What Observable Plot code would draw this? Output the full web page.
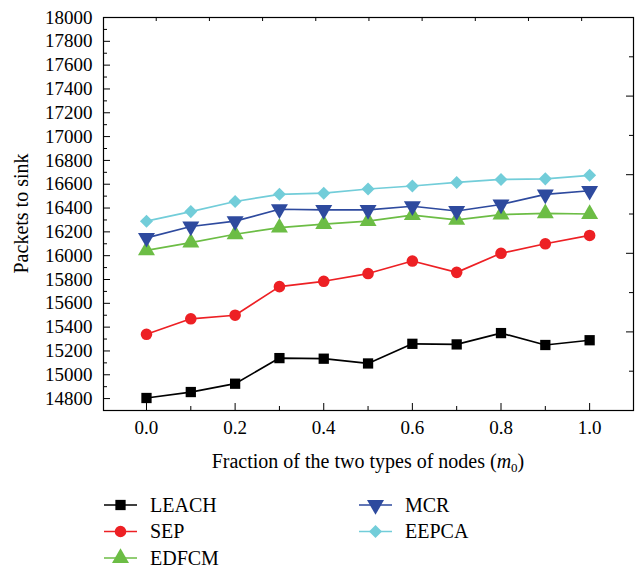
<!DOCTYPE html>
<html>
<head>
<meta charset="utf-8">
<script src="https://cdn.jsdelivr.net/npm/d3@7"></script>
<script src="https://cdn.jsdelivr.net/npm/@observablehq/plot@0.6"></script>
<style>
  html, body { margin: 0; padding: 0; background: #fff; }
  #chart { width: 635px; }
  svg { display: block; }
</style>
</head>
<body>
<div id="chart"></div>
<script>
// ---- data ----
const fractions = [0.0, 0.1, 0.2, 0.3, 0.4, 0.5, 0.6, 0.7, 0.8, 0.9, 1.0];
const seriesNames = ["LEACH", "SEP", "EDFCM", "MCR", "EEPCA"];
const leach = [14805, 14855, 14925, 15140, 15135, 15095, 15260, 15255, 15350, 15250, 15290];
const sep   = [15340, 15470, 15500, 15740, 15785, 15850, 15955, 15860, 16020, 16100, 16170];
const edfcm = [16045, 16110, 16180, 16235, 16265, 16290, 16340, 16300, 16345, 16355, 16350];
const mcr   = [16150, 16245, 16290, 16390, 16385, 16385, 16415, 16375, 16430, 16515, 16545];
const eepca = [16290, 16370, 16455, 16515, 16525, 16560, 16585, 16615, 16640, 16645, 16675];
const yTickLabels = d3.range(14800, 18001, 200);
const xTickLabels = [0.0, 0.2, 0.4, 0.6, 0.8, 1.0];
const yLabel = "Packets to sink";
const xLabelMain = "Fraction of the two types of nodes (";

// ---- styling ----
const colors = {LEACH: "#000000", SEP: "#ED2024", EDFCM: "#6CBD45", MCR: "#2E4A9E", EEPCA: "#72CDD9"};
const symbols = {LEACH: "square", SEP: "circle", EDFCM: "triangle", MCR: "triangle", EEPCA: "square"};
const rotations = {LEACH: 0, SEP: 0, EDFCM: 0, MCR: 180, EEPCA: 45};
const radii = {LEACH: 5.8, SEP: 5.8, EDFCM: 6.3, MCR: 6.3, EEPCA: 5.2};
const values = {LEACH: leach, SEP: sep, EDFCM: edfcm, MCR: mcr, EEPCA: eepca};

const table = seriesNames.flatMap(s => fractions.map((f, i) => ({series: s, x: f, y: values[s][i]})));

const W = 635, H = 475, mL = 103, mR = 2, mT = 17, mB = 65;
const innerW = W - mL - mR, innerH = H - mT - mB;
const FONT = "'Liberation Serif', 'DejaVu Serif', serif";

const yMinor = d3.range(14700, 18000, 200);
const xMinor = [0.1, 0.3, 0.5, 0.7, 0.9];
const topTicks = d3.range(0, 9).map(k => 0.022 + 0.12 * k);
const rightMajor = d3.range(0, 6).map(k => 14700 + 660 * k);
const rightMinor = d3.range(0, 5).map(k => 15030 + 660 * k);

const marks = [
  Plot.frame({stroke: "#000", strokeWidth: 1.2}),
  // inward ticks
  Plot.tickY(yTickLabels, {y: d => d, insetRight: innerW - 7, stroke: "#000"}),
  Plot.tickY(yMinor, {y: d => d, insetRight: innerW - 4, stroke: "#000"}),
  Plot.tickX(xTickLabels, {x: d => d, insetTop: innerH - 7, stroke: "#000"}),
  Plot.tickX(xMinor, {x: d => d, insetTop: innerH - 4, stroke: "#000"}),
  Plot.tickX(topTicks, {x: d => d, insetBottom: innerH - 4, stroke: "#000"}),
  Plot.tickY(rightMajor, {y: d => d, insetLeft: innerW - 7, stroke: "#000"}),
  Plot.tickY(rightMinor, {y: d => d, insetLeft: innerW - 4, stroke: "#000"}),
  Plot.axisY({ticks: yTickLabels, tickSize: 0, tickPadding: 11, tickFormat: d => String(d), label: null, fontSize: 19}),
  Plot.axisX({ticks: xTickLabels, tickSize: 0, tickPadding: 10, tickFormat: d3.format(".1f"), label: null, fontSize: 19})
];
for (const s of seriesNames) {
  const d = table.filter(t => t.series === s);
  marks.push(Plot.line(d, {x: "x", y: "y", stroke: colors[s], strokeWidth: 1.7}));
  marks.push(Plot.dot(d, {x: "x", y: "y", symbol: () => symbols[s], fill: colors[s], stroke: "none", r: radii[s], rotate: rotations[s]}));
}

const plot = Plot.plot({
  width: W, height: H,
  marginLeft: mL, marginRight: mR, marginTop: mT, marginBottom: mB,
  x: {domain: [-0.097, 1.099]},
  y: {domain: [14700, 18000]},
  symbol: {type: "identity"},
  style: {fontFamily: FONT, fontSize: "19px", color: "#000", background: "#fff", overflow: "visible"},
  marks
});

const svg = d3.select(plot);
// y-axis title
svg.append("text")
  .attr("transform", `translate(28,${mT + innerH / 2}) rotate(-90)`)
  .attr("text-anchor", "middle")
  .style("font-family", FONT).style("font-size", "20px").attr("fill", "#000")
  .text(yLabel);
// x-axis title with italic m and subscript 0
const xt = svg.append("text")
  .attr("x", mL + innerW / 2).attr("y", 468)
  .attr("text-anchor", "middle")
  .style("font-family", FONT).style("font-size", "20px").attr("fill", "#000");
xt.append("tspan").text(xLabelMain);
xt.append("tspan").style("font-style", "italic").text("m");
xt.append("tspan").style("font-size", "13px").attr("dy", 4).text("0");
xt.append("tspan").attr("dy", -4).text(")");

document.getElementById("chart").appendChild(plot);

// ---- legend ----
const legendPos = [
  {s: "LEACH", col: 0, row: 0}, {s: "SEP", col: 0, row: 1}, {s: "EDFCM", col: 0, row: 2},
  {s: "MCR", col: 1, row: 0}, {s: "EEPCA", col: 1, row: 1}
];
const symMap = {square: d3.symbolSquare, circle: d3.symbolCircle, triangle: d3.symbolTriangle};
const leg = d3.select("#chart").append("svg").attr("width", W).attr("height", 571 - H)
  .style("font-family", FONT);
for (const p of legendPos) {
  const x0 = p.col === 0 ? 104 : 359;
  const cy = 30 + p.row * 26.5;
  const g = leg.append("g");
  g.append("line").attr("x1", x0).attr("x2", x0 + 33).attr("y1", cy).attr("y2", cy)
    .attr("stroke", colors[p.s]).attr("stroke-width", 1.7);
  const r = radii[p.s];
  g.append("path")
    .attr("d", d3.symbol(symMap[symbols[p.s]], Math.PI * r * r)())
    .attr("transform", `translate(${x0 + 16.5},${cy}) rotate(${rotations[p.s]})`)
    .attr("fill", colors[p.s]);
  g.append("text").attr("x", x0 + 46).attr("y", cy + 6.5)
    .style("font-family", FONT).style("font-size", "20px").attr("fill", "#000")
    .text(p.s);
}
</script>
</body>
</html>
